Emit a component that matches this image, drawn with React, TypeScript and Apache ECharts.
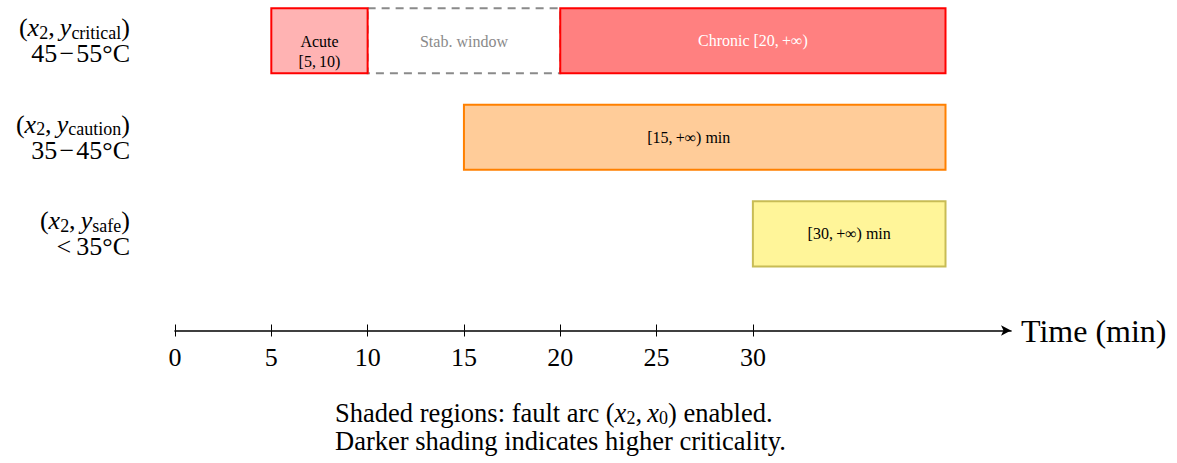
import React, { useEffect, useRef } from 'react';
import * as echarts from 'echarts';

// ---- data ----
const tickValues = [0, 5, 10, 15, 20, 25, 30];
const axisMax = 43.4;
const rowValues = [3, 2, 1];
const rowSubscripts = ['critical', 'caution', 'safe'];
const rowRanges = ['45\u200A\u2212\u200A55°C', '35\u200A\u2212\u200A45°C', '<\u200935°C'];

const segNames = ['Stab. window', 'Acute\n[5,\u200910)', 'Chronic [20,\u2009+∞)', '[15,\u2009+∞) min', '[30,\u2009+∞) min'];
const segStart = [10, 5, 20, 15, 30];
const segEnd = [20, 10, 40, 40, 40];
const segRow = [3, 3, 3, 2, 1];

// ---- styles ----
const FONT = 'Liberation Serif';
const BAR_H = 0.673;
const segStyles = [
  { fill: 'rgba(0,0,0,0)', stroke: '#8a8a8a', dash: [8, 6], text: '#8a8a8a', dx: 0, dy: 1 },
  { fill: '#ffb3b3', stroke: '#ff0000', dash: null, text: '#000000', dx: 0, dy: 11 },
  { fill: '#ff8080', stroke: '#ff0000', dash: null, text: '#ffffff', dx: 0, dy: 0 },
  { fill: '#ffcc99', stroke: '#ff8000', dash: null, text: '#000000', dx: -16, dy: 0 },
  { fill: '#fff599', stroke: '#c8bc55', dash: null, text: '#000000', dx: 0, dy: 0 },
];

export default function App() {
  const ref = useRef<HTMLDivElement>(null);
  useEffect(() => {
    if (!ref.current) return;
    const chart = echarts.init(ref.current, null, { renderer: 'svg' });
    const data = segNames.map((_, i) => [segStart[i], segEnd[i], segRow[i], i]);
    const mathRich = {
      m: { fontSize: 26, fontFamily: FONT, color: '#000', lineHeight: 26 },
      i: { fontSize: 26, fontFamily: FONT, fontStyle: 'italic', color: '#000', lineHeight: 26 },
      s: { fontSize: 18, fontFamily: FONT, color: '#000', lineHeight: 16, padding: [10, 0, 0, 0] },
    };
    const option: any = {
      animation: false,
      grid: { left: 175, right: 166, top: 2, bottom: 132.5, containLabel: false },
      xAxis: [
        {
          type: 'value',
          min: 0,
          max: axisMax,
          position: 'bottom',
          splitLine: { show: false },
          axisLine: {
            show: true,
            lineStyle: { color: '#000', width: 1.6 },
            symbol: ['none', 'arrow'],
            symbolSize: [8, 10],
          },
          axisTick: { show: true, customValues: tickValues, length: 6, lineStyle: { color: '#000', width: 1 } },
          axisLabel: { customValues: tickValues, fontSize: 26, fontFamily: FONT, color: '#000', margin: 14 },
          name: 'Time (min)',
          nameLocation: 'end',
          nameGap: 10,
          nameTextStyle: { fontSize: 32, fontFamily: FONT, color: '#000', verticalAlign: 'middle', padding: [0, 0, 14, 0] },
        },
        {
          type: 'value',
          min: 0,
          max: axisMax,
          position: 'bottom',
          splitLine: { show: false },
          axisLine: { show: false },
          axisTick: { show: true, inside: true, customValues: tickValues, length: 6, lineStyle: { color: '#000', width: 1 } },
          axisLabel: { show: false },
        },
      ],
      yAxis: {
        type: 'value',
        min: 0,
        max: 3.4,
        interval: 1,
        splitLine: { show: false },
        axisLine: { show: false },
        axisTick: { show: false },
        axisLabel: {
          margin: 45,
          align: 'right',
          formatter: (v: number) => {
            const i = rowValues.indexOf(v);
            if (i < 0) return '';
            return `{m|(}{i|x}{s|2}{m|,\u2009}{i|y}{s|${rowSubscripts[i]}}{m|)}\n{m|${rowRanges[i]}}`;
          },
          rich: mathRich,
        },
      },
      series: [
        {
          type: 'custom',
          xAxisIndex: 0,
          encode: { x: [0, 1], y: 2 },
          data,
          renderItem: (params: any, api: any) => {
            const s = api.value(0);
            const e = api.value(1);
            const r = api.value(2);
            const idx = api.value(3);
            const p0 = api.coord([s, r]);
            const p1 = api.coord([e, r]);
            const h = api.size([0, BAR_H])[1];
            const st = segStyles[idx];
            return {
              type: 'group',
              children: [
                {
                  type: 'rect',
                  shape: { x: p0[0], y: p0[1] - h / 2, width: p1[0] - p0[0], height: h },
                  style: { fill: st.fill, stroke: st.stroke, lineWidth: 2, lineDash: st.dash || undefined },
                },
                {
                  type: 'text',
                  x: (p0[0] + p1[0]) / 2 + st.dx,
                  y: p0[1] + st.dy,
                  style: {
                    text: segNames[idx],
                    fill: st.text,
                    fontSize: 16,
                    fontFamily: FONT,
                    align: 'center',
                    verticalAlign: 'middle',
                    lineHeight: 20,
                  },
                },
              ],
            };
          },
        },
      ],
      graphic: [
        {
          type: 'text',
          left: 335,
          top: 399,
          style: {
            text:
              '{t|Shaded regions: fault arc (}{i|x}{s|2}{t|,\u2009}{i|x}{s|0}{t|) enabled.}\n{t|Darker shading indicates higher criticality.}',
            rich: {
              t: { fontSize: 26.5, fontFamily: FONT, fill: '#000', lineHeight: 28 },
              i: { fontSize: 26.5, fontFamily: FONT, fontStyle: 'italic', fill: '#000', lineHeight: 28 },
              s: { fontSize: 18, fontFamily: FONT, fill: '#000', lineHeight: 16, padding: [10, 0, 0, 0] },
            },
          },
        },
      ],
    };
    chart.setOption(option);
    return () => chart.dispose();
  }, []);
  return <div ref={ref} style={{ position: 'absolute', left: 0, top: 0, width: 1177, height: 463 }} />;
}
